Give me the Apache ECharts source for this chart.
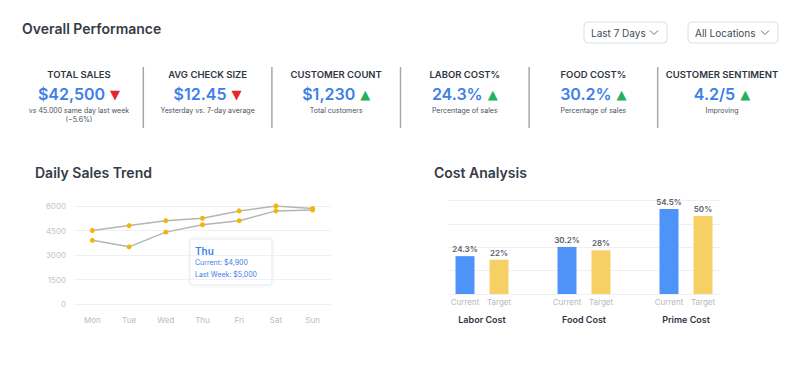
<!DOCTYPE html>
<html>
<head>
<meta charset="utf-8">
<script src="https://cdn.jsdelivr.net/npm/echarts@6/dist/echarts.min.js"></script>
<style>
html,body{margin:0;padding:0;background:#fff;}
#c{width:800px;height:367px;}
</style>
</head>
<body>
<div id="c"></div>
<script>
// ---- data ----
const pageTitle = 'Overall Performance';
const filters = ['Last 7 Days', 'All Locations'];
const kpiLabels = ['TOTAL SALES', 'AVG CHECK SIZE', 'CUSTOMER COUNT', 'LABOR COST%', 'FOOD COST%', 'CUSTOMER SENTIMENT'];
const kpiValues = ['$42,500', '$12.45', '$1,230', '24.3%', '30.2%', '4.2/5'];
const kpiTrends = ['down', 'down', 'up', 'up', 'up', 'up'];
const kpiNotes = ['vs 45.000 same day last week\n(\u22125.6%)', 'Yesterday vs. 7-day average', 'Total customers', 'Percentage of sales', 'Percentage of sales', 'Improving'];

const days = ['Mon', 'Tue', 'Wed', 'Thu', 'Fri', 'Sat', 'Sun'];
const salesCurrent = [3900, 3500, 4400, 4850, 5100, 5700, 5750];
const salesLastWeek = [4500, 4800, 5100, 5250, 5700, 6000, 5850];
const salesTicks = [0, 1500, 3000, 4500, 6000];
const tipDayIndex = 3;
const tipCurrent = 4900;
const tipLastWeek = 5000;

const costGroups = ['Labor Cost', 'Food Cost', 'Prime Cost'];
const costKinds = ['Current', 'Target'];
const costCurrent = [24.3, 30.2, 54.5];
const costTarget = [22, 28, 50];

// ---- build ----
const FONT = 'Inter, "Noto Sans", sans-serif';
const BLUE = '#3d80e8';
const dark = '#2f3542';

const barCats = [];
const barData = [];
const groupCats = [''];
costGroups.forEach((g, i) => {
  if (i > 0) { barCats.push(''); barData.push('-'); groupCats.push(''); }
  barCats.push(costKinds[0]); barData.push({ value: costCurrent[i], itemStyle: { color: '#4e94f8' } });
  barCats.push(costKinds[1]); barData.push({ value: costTarget[i], itemStyle: { color: '#f6cf65' } });
  groupCats.push(g); groupCats.push('');
});

const graphics = [];
graphics.push({ type: 'text', left: 22, top: 21, style: { text: pageTitle, font: '600 14px ' + FONT, fill: '#353b48' } });
graphics.push({ type: 'text', left: 35, top: 165, style: { text: 'Daily Sales Trend', font: '600 14px ' + FONT, fill: '#353b48' } });
graphics.push({ type: 'text', left: 434, top: 165, style: { text: 'Cost Analysis', font: '600 14px ' + FONT, fill: '#353b48' } });

// filters
const fBoxes = [[584, 22, 83, 21], [688, 22, 90, 21]];
filters.forEach((f, i) => {
  const b = fBoxes[i];
  graphics.push({ type: 'rect', shape: { x: b[0], y: b[1], width: b[2], height: b[3], r: 4 }, style: { fill: '#fff', stroke: '#dcdfe4', lineWidth: 1 } });
  graphics.push({ type: 'text', style: { text: f, x: b[0] + 7, y: b[1] + b[3] / 2, verticalAlign: 'middle', font: '10px ' + FONT, fill: '#454a54' } });
  const cx = b[0] + b[2] - 13, cy = b[1] + b[3] / 2;
  graphics.push({ type: 'polyline', shape: { points: [[cx - 4, cy - 2], [cx, cy + 2], [cx + 4, cy - 2]] }, style: { stroke: '#6b707a', lineWidth: 1, fill: null } });
});

// KPIs
kpiLabels.forEach((lab, i) => {
  const cx = 79 + i * 128.6;
  graphics.push({ type: 'text', style: { text: lab, x: cx, y: 74, align: 'center', verticalAlign: 'middle', font: '600 9.5px ' + FONT, fill: dark } });
  const tri = kpiTrends[i] === 'up' ? '{u|\u25B2}' : '{d|\u25BC}';
  graphics.push({ type: 'text', style: {
    text: '{v|' + kpiValues[i] + '}' + tri, x: cx, y: 94, align: 'center', verticalAlign: 'middle',
    rich: {
      v: { font: '600 16px ' + FONT, fill: BLUE, color: BLUE },
      u: { font: '13px "DejaVu Sans"', fill: '#23b15f', color: '#23b15f', padding: [0, 0, 0, 5] },
      d: { font: '13px "DejaVu Sans"', fill: '#e5262b', color: '#e5262b', padding: [0, 0, 0, 5] }
    }
  } });
  graphics.push({ type: 'text', style: { text: kpiNotes[i], x: cx, y: 106, align: 'center', verticalAlign: 'top', font: '7px ' + FONT, lineHeight: 9, fill: '#4c515b' } });
  if (i < kpiLabels.length - 1) {
    const dx = cx + 64.3;
    graphics.push({ type: 'line', shape: { x1: dx, y1: 67, x2: dx, y2: 128 }, style: { stroke: '#a3a8b0', lineWidth: 1.5 } });
  }
});

// tooltip-like annotation
graphics.push({ type: 'rect', shape: { x: 190, y: 239, width: 82, height: 46, r: 3 }, style: { fill: '#fff', stroke: '#e6e9ee', lineWidth: 1, shadowBlur: 4, shadowColor: 'rgba(0,0,0,0.06)' } });
graphics.push({ type: 'text', style: { text: days[tipDayIndex], x: 195, y: 251, verticalAlign: 'middle', font: '600 10px ' + FONT, fill: BLUE } });
graphics.push({ type: 'text', style: { text: 'Current: $' + tipCurrent.toLocaleString('en-US'), x: 195, y: 262.5, verticalAlign: 'middle', font: '7px ' + FONT, fill: BLUE } });
graphics.push({ type: 'text', style: { text: 'Last Week: $' + tipLastWeek.toLocaleString('en-US'), x: 195, y: 274, verticalAlign: 'middle', font: '7px ' + FONT, fill: BLUE } });

const chart = echarts.init(document.getElementById('c'), null, { renderer: 'svg' });
chart.setOption({
  backgroundColor: '#fff',
  animation: false,
  textStyle: { fontFamily: FONT },
  grid: [
    { left: 74, right: 469, top: 206, bottom: 63 },
    { left: 448, right: 80, top: 200.5, bottom: 73 }
  ],
  xAxis: [
    { gridIndex: 0, type: 'category', data: days, boundaryGap: true,
      axisLine: { show: false }, axisTick: { show: false },
      axisLabel: { color: '#b9bcc2', fontSize: 8, margin: 12 } },
    { gridIndex: 1, type: 'category', data: barCats,
      axisLine: { show: false }, axisTick: { show: false },
      axisLabel: { color: '#b5b9c0', fontSize: 8, margin: 4, interval: 0 } },
    { gridIndex: 1, type: 'category', data: groupCats, boundaryGap: false, position: 'bottom',
      axisLine: { show: false }, axisTick: { show: false },
      axisLabel: { color: dark, fontSize: 9, fontWeight: 600, margin: 21, interval: 0 } }
  ],
  yAxis: [
    { gridIndex: 0, type: 'value', min: salesTicks[0], max: salesTicks[salesTicks.length - 1], interval: salesTicks[1] - salesTicks[0],
      axisLine: { show: false }, axisTick: { show: false },
      axisLabel: { color: '#c3c6cb', fontSize: 8, margin: 8, formatter: v => String(v) },
      splitLine: { lineStyle: { color: '#eef0f3', width: 1 } } },
    { gridIndex: 1, type: 'value', min: 0, max: 60, interval: 15,
      axisLine: { show: false }, axisTick: { show: false }, axisLabel: { show: false },
      splitLine: { lineStyle: { color: '#eef0f3', width: 1 } } }
  ],
  series: [
    { name: 'Last Week', type: 'line', xAxisIndex: 0, yAxisIndex: 0, data: salesLastWeek,
      symbol: 'circle', symbolSize: 5, lineStyle: { color: '#b5b5b5', width: 1.5 }, itemStyle: { color: '#f2b705' } },
    { name: 'Current', type: 'line', xAxisIndex: 0, yAxisIndex: 0, data: salesCurrent,
      symbol: 'circle', symbolSize: 5, lineStyle: { color: '#b5b5b5', width: 1.5 }, itemStyle: { color: '#f2b705' } },
    { name: 'Cost', type: 'bar', xAxisIndex: 1, yAxisIndex: 1, data: barData, barWidth: 19,
      label: { show: true, position: 'top', distance: 3, formatter: p => p.value + '%', color: '#5b616c', fontSize: 8, fontWeight: 600 } }
  ],
  graphic: graphics
});
</script>
</body>
</html>
